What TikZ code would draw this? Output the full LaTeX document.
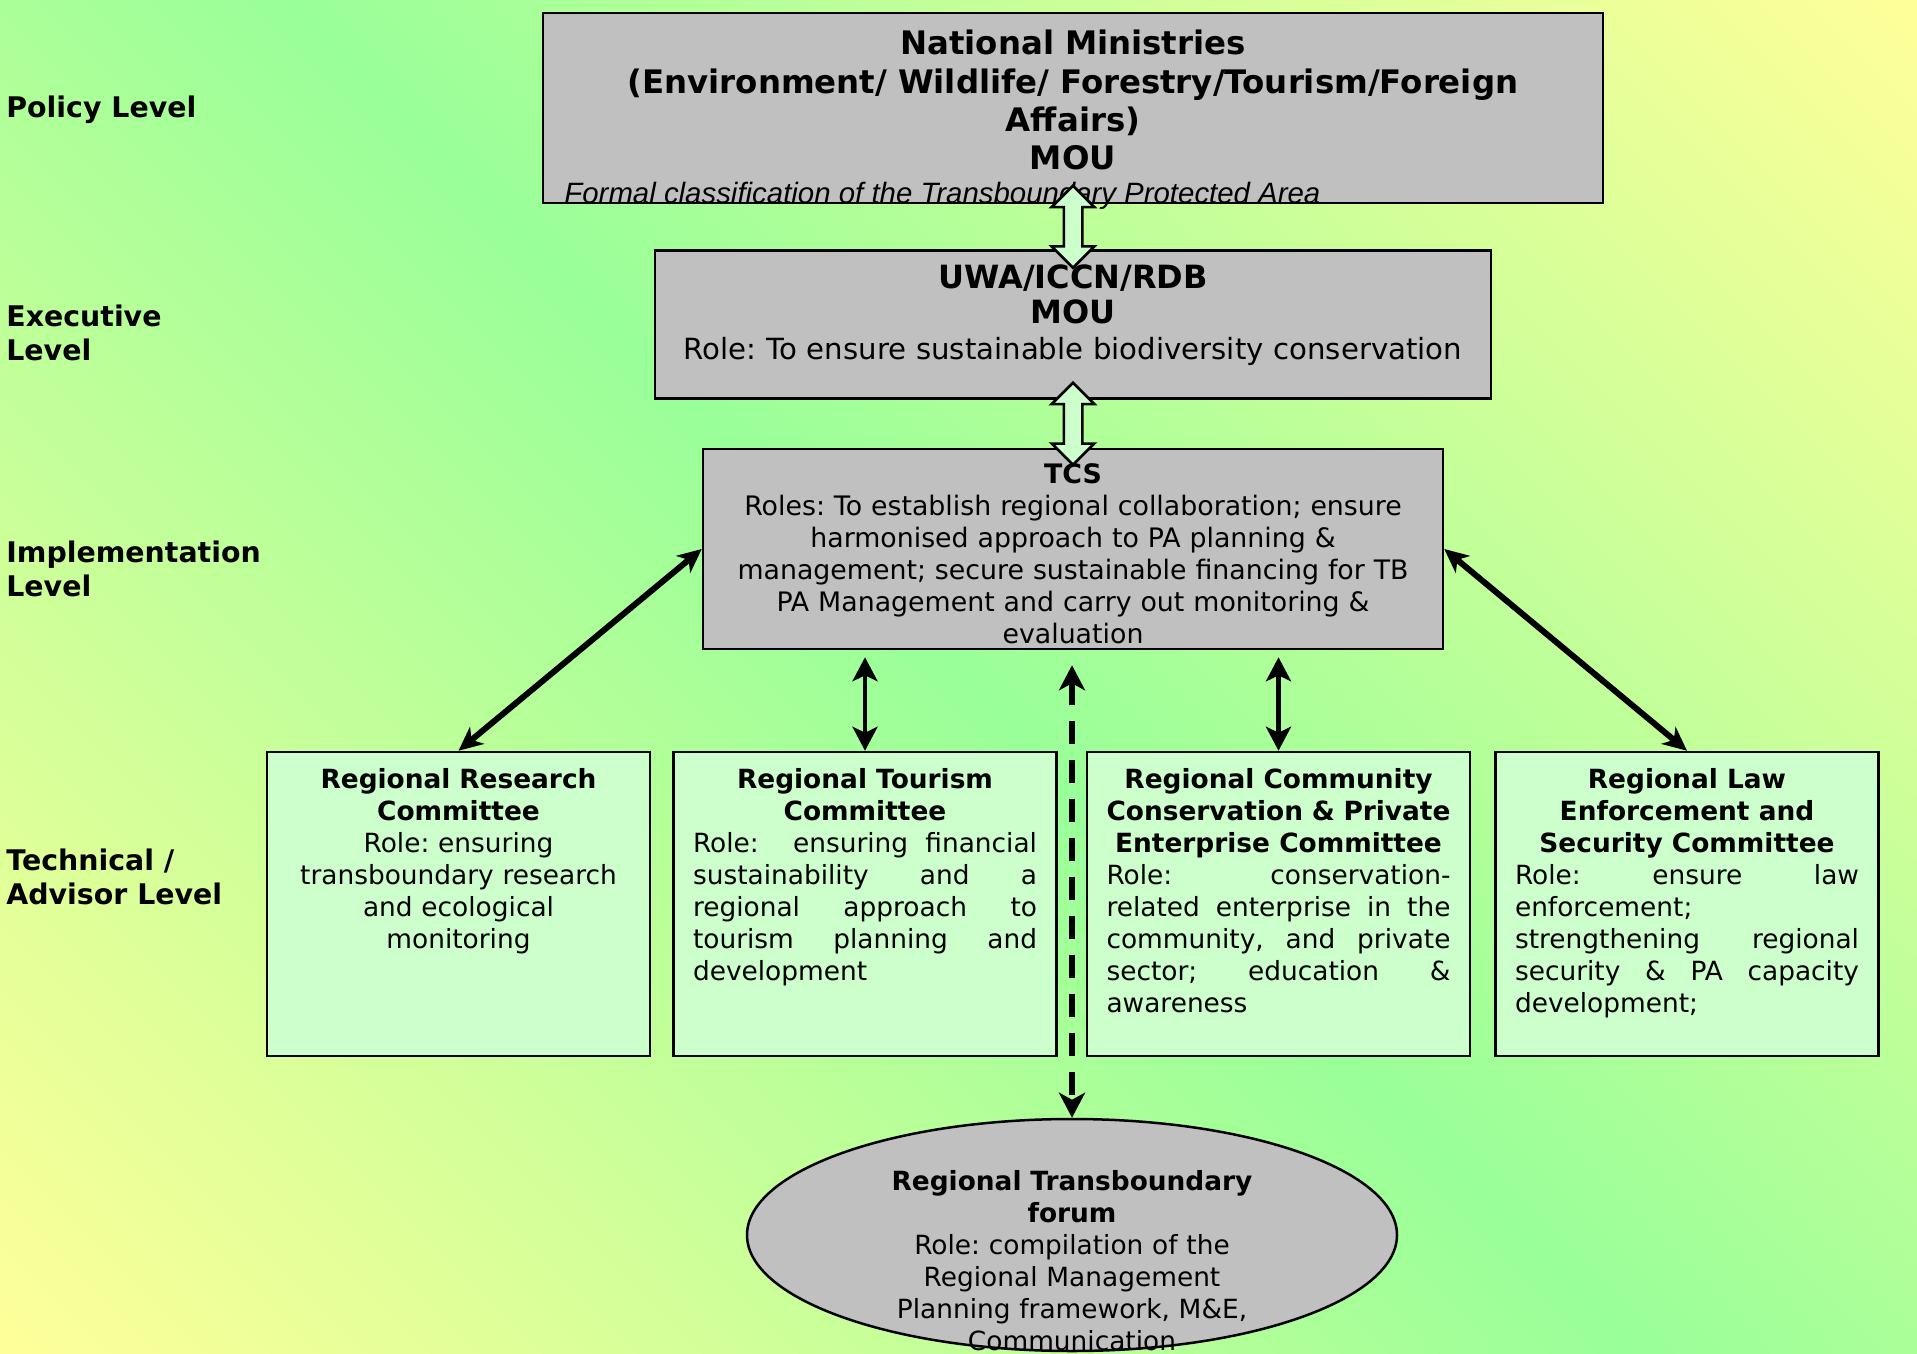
\documentclass[tikz,border=0pt]{standalone}
\usepackage{fontspec}
\setmainfont{DejaVu Sans}
\newfontfamily\italfont{Liberation Sans}
\frenchspacing
\usetikzlibrary{positioning,arrows.meta,shapes.geometric,shapes.arrows,calc}
\definecolor{bggreen}{RGB}{153,255,153}
\definecolor{bgyellow}{RGB}{255,255,153}
\definecolor{boxgray}{RGB}{192,192,192}
\definecolor{boxgreen}{RGB}{204,255,204}
\pgfdeclareverticalshading{bgdiag}{100bp}{color(0bp)=(bgyellow); color(14.6bp)=(bgyellow); color(50bp)=(bggreen); color(85.4bp)=(bgyellow); color(100bp)=(bgyellow)}
\tikzset{
  levellabel/.style={anchor=west, align=left, inner sep=0pt, font=\fontsize{14.2}{17}\selectfont\bfseries},
  graybox/.style={draw, line width=1.25pt, fill=boxgray, inner sep=0pt},
  greenbox/.style={draw, line width=1.25pt, fill=boxgreen, inner sep=0pt, minimum width=191.5pt, minimum height=152pt},
  boxtext/.style={anchor=north, inner sep=0pt, align=center, text width=172pt, font=\fontsize{13.2}{16}\selectfont},
  roletext/.style={boxtext, align=justify},
  blockarrow/.style={double arrow, draw, line width=1.25pt, fill=boxgreen, shape border rotate=90,
                     inner sep=4pt, double arrow head extend=6pt, minimum height=41pt},
  bigarrow/.style={<->, line width=3pt, >={Stealth[length=12pt,width=11pt,inset=3.5pt]}},
  vertarrow/.style={<->, line width=2.25pt, >={Stealth[length=12pt,width=12.5pt,inset=3pt]}},
  dasharrow/.style={<->, line width=3pt, dash pattern=on 11.5pt off 8pt, >={Stealth[length=12.5pt,width=13pt,inset=3.5pt]}},
}

\begin{document}
\begin{tikzpicture}[x=0.5pt, y=-0.5pt]
  \useasboundingbox (0,0) rectangle (1917,1354);
  \shade[shading=bgdiag, shading angle=-45] (0,0) rectangle (1917,1354);

  % level labels
  \node[levellabel] (policylbl) at (6,110) {Policy Level};
  \node[levellabel] (execlbl) at (6,333) {Executive\\Level};
  \node[levellabel] (impllbl) at (6,569) {Implementation\\Level};
  \node[levellabel] (techlbl) at (6,877) {Technical /\\Advisor Level};

  % main column
  \node[graybox, minimum width=530pt, minimum height=95pt] (nat) at (1073,108) {};
  \node[graybox, minimum width=418pt, minimum height=74pt] (uwa) [below=22.5pt of nat] {};
  \node[graybox, minimum width=370pt, minimum height=100pt] (tcs) [below=24pt of uwa] {};

  \node[boxtext, text width=530pt, font=\fontsize{16.2}{19.2}\selectfont\bfseries] (nattext) [below=9pt of nat.north]
    {National Ministries\\(Environment/ Wildlife/ Forestry/Tourism/Foreign\\Affairs)\\MOU};
  \node[anchor=base west, inner sep=0pt, font=\italfont\itshape\fontsize{14.7}{17}\selectfont] (formal) at (564,203)
    {Formal classification of the Transboundary Protected Area};
  \node[boxtext, text width=418pt, font=\fontsize{14.6}{17.75}\selectfont] (uwatext) [below=7.5pt of uwa.north]
    {{\fontsize{16}{17.75}\selectfont\bfseries UWA/ICCN/RDB\\MOU\par}Role: To ensure sustainable biodiversity conservation};
  \node[boxtext, text width=360pt, font=\fontsize{13.4}{16}\selectfont] (tcstext) [below=7.5pt of tcs.north]
    {{\bfseries TCS\par}Roles: To establish regional collaboration; ensure\\harmonised approach to PA planning \&\\management; secure sustainable financing for TB\\PA Management and carry out monitoring \&\\evaluation};

  % committees
  \node[greenbox] (res) at (458.5,904) {};
  \node[greenbox] (tour) [right=10.5pt of res] {};
  \node[greenbox] (comm) [right=14pt of tour] {};
  \node[greenbox] (law) [right=11.5pt of comm] {};

  \node[boxtext] (restext) [below=8.5pt of res.north]
    {{\bfseries Regional Research\\Committee\par}Role: ensuring\\transboundary research\\and ecological\\monitoring};
  \node[roletext] (tourtext) [below=8.5pt of tour.north]
    {{\centering\bfseries Regional Tourism\\Committee\par}Role:\ \ ensuring financial\linebreak sustainability and a\linebreak regional approach to\linebreak tourism planning and\linebreak development};
  \node[roletext] (commtext) [below=8.5pt of comm.north]
    {{\centering\bfseries Regional Community\\Conservation \& Private\\Enterprise Committee\par}Role: conservation-\linebreak related enterprise in the\linebreak community, and private\linebreak sector; education \&\linebreak awareness};
  \node[roletext] (lawtext) [below=8.5pt of law.north]
    {{\centering\bfseries Regional Law\\Enforcement and\\Security Committee\par}Role: ensure law\linebreak enforcement;\newline strengthening regional\linebreak security \& PA capacity\linebreak development;};

  % forum
  \node[ellipse, draw, line width=1.25pt, fill=boxgray, inner sep=0pt, minimum width=325pt, minimum height=116pt] (forum) at (1072,1235) {};
  \node[boxtext, text width=300pt] (forumtext) at (1072,1170)
    {{\bfseries Regional Transboundary\\forum\par}Role: compilation of the\\Regional Management\\Planning framework, M\&E,\\Communication};

  % connectors
  \node[blockarrow] (natuwa) at ($(nat.south)!0.5!(uwa.north)$) {};
  \node[blockarrow] (uwatcs) at ($(uwa.south)!0.5!(tcs.north)$) {};
  \draw[bigarrow] (tcs.west) -- (res.north);
  \draw[bigarrow] (tcs.east) -- (law.north);
  \draw[vertarrow] ($(tour.north |- tcs.south)+(0,-3.5pt)$) -- (tour.north);
  \draw[vertarrow] ($(comm.north |- tcs.south)+(0,-3.5pt)$) -- (comm.north);
  \draw[dasharrow] ($(forum.north |- tcs.south)+(0,-7.5pt)$) -- (forum.north);
\end{tikzpicture}
\end{document}
